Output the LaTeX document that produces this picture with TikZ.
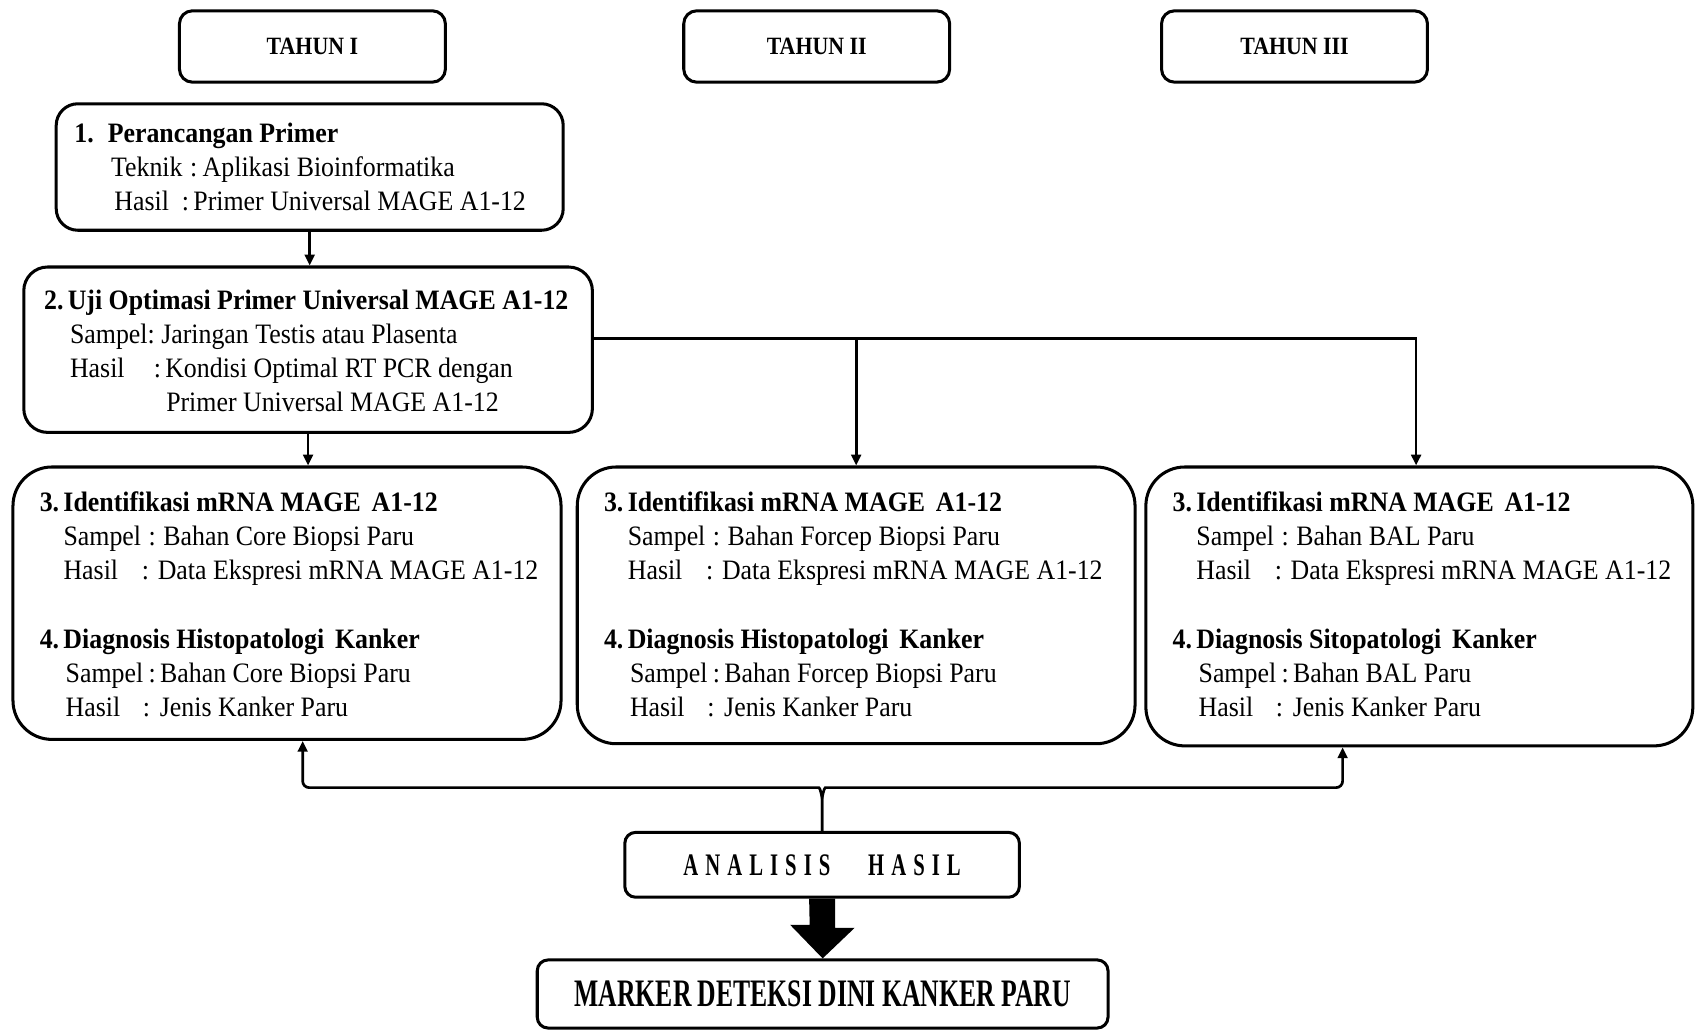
\documentclass[tikz,border=0pt]{standalone}
\usepackage{fontspec}
\setmainfont{Liberation Serif}[FakeStretch=0.92]
\newfontfamily\tahunfont{Liberation Serif}[FakeStretch=0.88]
\newfontfamily\markfont{Liberation Serif}[FakeStretch=0.66]
\usetikzlibrary{arrows.meta,calc}
\newcommand\myls{\hspace{6.5pt}}
\newcommand\boxthree[3]{%
\textbf{3.\hspace{4pt}Identifikasi mRNA MAGE\hspace{10pt}A1-12}\\
\hspace*{22pt}Sampel\hspace{7pt}:\hspace{7pt}Bahan #1\\
\hspace*{22pt}Hasil\hspace{22pt}:\hspace{8pt}Data Ekspresi mRNA MAGE A1-12\\[31.5pt]
\textbf{4.\hspace{4pt}Diagnosis #2\hspace{10pt}Kanker}\\
\hspace*{24pt}Sampel\hspace{5pt}:\hspace{4pt}Bahan #3\\
\hspace*{24pt}Hasil\hspace{21pt}:\hspace{9pt}Jenis Kanker Paru}
\begin{document}
\begin{tikzpicture}[x=1pt,y=-1pt,
  box/.style={draw, line width=2.8pt, inner sep=0pt},
  txt/.style={anchor=west, align=left, inner sep=0pt, font=\fontsize{26}{31.5}\selectfont},
  tahun/.style={box, rounded corners=12pt, minimum width=246pt, minimum height=66pt,
    font=\tahunfont\fontsize{23}{26}\selectfont\bfseries},
  conn/.style={line width=2.5pt, -{Triangle[length=10pt,width=9pt]}}]
\useasboundingbox (0,0) rectangle (1568,952);

% year headers
\node[tahun] (t1) at (289,43) {TAHUN I};
\node[tahun] (t2) at (755.5,43) {TAHUN II};
\node[tahun] (t3) at (1197.5,43) {TAHUN III};

% step 1
\node[box, rounded corners=20pt, minimum width=469pt, minimum height=117pt] (b1) at (286.5,154.5) {};
\node[txt] (b1t) at ($(b1.west)+(18,0)$) {%
\textbf{1.\hspace{13pt}Perancangan Primer}\\
\hspace*{34pt}Teknik\hspace{7pt}:\hspace{5pt}Aplikasi Bioinformatika\\
\hspace*{37pt}Hasil\hspace{12pt}:\hspace{4pt}Primer Universal MAGE A1-12};

% step 2
\node[box, rounded corners=22pt, minimum width=526pt, minimum height=153pt] (b2) at (285,323.5) {};
\node[txt] (b2t) at ($(b2.west)+(20,1)$) {%
\textbf{2.\hspace{4pt}Uji Optimasi Primer Universal MAGE A1-12}\\
\hspace*{24pt}Sampel:\hspace{6pt}Jaringan Testis atau Plasenta\\
\hspace*{24pt}Hasil\hspace{27pt}:\hspace{4pt}Kondisi Optimal RT PCR dengan\\
\hspace*{113pt}Primer Universal MAGE A1-12};

% step 3/4 boxes
\node[box, rounded corners=36pt, minimum width=507pt, minimum height=252pt] (b3a) at (265.5,558) {};
\node[box, rounded corners=36pt, minimum width=516pt, minimum height=256pt] (b3b) at (792,560) {};
\node[box, rounded corners=36pt, minimum width=506pt, minimum height=258pt] (b3c) at (1313,561) {};
\node[txt] (b3at) at ($(b3a.west)+(26,1)$) {\boxthree{Core Biopsi Paru}{Histopatologi}{Core Biopsi Paru}};
\node[txt] (b3bt) at ($(b3b.west)+(26,-1)$) {\boxthree{Forcep Biopsi Paru}{Histopatologi}{Forcep Biopsi Paru}};
\node[txt] (b3ct) at ($(b3c.west)+(26,-2)$) {\boxthree{BAL Paru}{Sitopatologi}{BAL Paru}};

% analysis and result
\node[box, rounded corners=10pt, minimum width=365pt, minimum height=60pt,
  font=\markfont\fontsize{29}{32}\selectfont\bfseries] (anl) at (760.5,800)
  {A\myls N\myls A\myls L\myls I\myls S\myls I\myls S\hspace{35pt}H\myls A\myls S\myls I\myls L};
\node[box, rounded corners=10pt, minimum width=528pt, minimum height=63pt,
  font=\markfont\fontsize{36}{40}\selectfont\bfseries] (mk) at (761,919.5)
  {MARKER DETEKSI DINI KANKER PARU};

% connectors
\draw[conn] (b1.south) -- (b1.south |- b2.north);
\draw[conn] (b2.south) -- (b2.south |- b3a.north);
\coordinate (bus) at ($(b2.east)+(0,-10.5)$);
\draw[conn] (bus) -| ($(b3c.north)+(-3,0)$);
\draw[conn] (bus -| b3b.north) -- (b3b.north);

\draw[conn, rounded corners=6pt] (anl.north) -- ++(0,-24) to[out=90,in=0] ++(-9,-16) -| ($(b3a.south)+(14.5,0)$);
\draw[conn, rounded corners=6pt] (anl.north) -- ++(0,-24) to[out=90,in=180] ++(9,-16) -| ($(b3c.south)+(-71,0)$);

\fill (anl.south) ++(-12,0) -- ++(24,0) -- ++(0,27) -- ++(18,0) -- (mk.north) -- ++(-30,-31) -- ++(18,0) -- cycle;
\end{tikzpicture}
\end{document}
